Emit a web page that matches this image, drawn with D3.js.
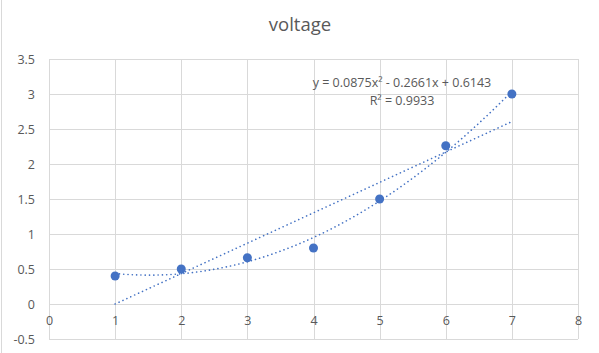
<!DOCTYPE html>
<html>
<head>
<meta charset="utf-8">
<script src="https://cdn.jsdelivr.net/npm/d3@7"></script>
<style>
  body { margin: 0; background: #fff; }
  svg { display: block; font-family: "Open Sans", "Liberation Sans", sans-serif; }
</style>
</head>
<body>
<div id="vis-display"></div>
<script>
// Scatter of voltage readings with a 2nd-order polynomial and a linear trendline (Excel-style).

const X_VALUES = [1, 2, 3, 4, 5, 6, 7];
const Y_VALUES = [0.4, 0.5, 0.66, 0.8, 1.5, 2.26, 3.0];
const POLY_COEFFS = [0.0875, -0.2661, 0.6143];   // a x² + b x + c, as printed on the chart
const X_TICKS = [0, 1, 2, 3, 4, 5, 6, 7, 8];
const Y_TICKS = [-0.5, 0, 0.5, 1, 1.5, 2, 2.5, 3, 3.5];
const TITLE = "voltage";
const EQ_LABEL = "y = 0.0875x² - 0.2661x + 0.6143";
const R2_LABEL = "R² = 0.9933";

const W = 599, H = 353;
const margin = { top: 59, right: 21, bottom: 14, left: 49 };
const innerW = W - margin.left - margin.right;
const innerH = H - margin.top - margin.bottom;

const BLUE = "#4472c4";
const GRID = "#d9d9d9";
const TEXT = "#595959";

const data = X_VALUES.map((x, i) => ({ x, y: Y_VALUES[i] }));

// ── Scales ────────────────────────────────────────────────────────────────

const xScale = d3.scaleLinear().domain([0, 8]).range([0, innerW]);
const yScale = d3.scaleLinear().domain([-0.5, 3.5]).range([innerH, 0]);

// ── SVG ───────────────────────────────────────────────────────────────────

const svg = d3.select("#vis-display").append("svg")
  .attr("width", W)
  .attr("height", H);

// faint outer border on the left edge
svg.append("line")
  .attr("x1", 1.5).attr("x2", 1.5).attr("y1", 0).attr("y2", H)
  .attr("stroke", "#d9d9d9");

svg.append("text")
  .attr("x", 300)
  .attr("y", 31)
  .attr("text-anchor", "middle")
  .style("font-size", "18.5px")
  .style("fill", TEXT)
  .text(TITLE);

const g = svg.append("g")
  .attr("transform", `translate(${margin.left},${margin.top})`);

// ── Grid ──────────────────────────────────────────────────────────────────

g.append("g")
  .selectAll("line")
  .data(Y_TICKS)
  .join("line")
    .attr("x1", 0).attr("x2", innerW)
    .attr("y1", d => Math.round(yScale(d)) + 0.5)
    .attr("y2", d => Math.round(yScale(d)) + 0.5)
    .attr("stroke", GRID);

g.append("g")
  .selectAll("line")
  .data(X_TICKS)
  .join("line")
    .attr("x1", d => Math.round(xScale(d)) + 0.5)
    .attr("x2", d => Math.round(xScale(d)) + 0.5)
    .attr("y1", 0).attr("y2", innerH)
    .attr("stroke", GRID);

// ── Axes labels ───────────────────────────────────────────────────────────

g.append("g")
  .call(d3.axisLeft(yScale).tickValues(Y_TICKS).tickSize(0).tickPadding(14)
    .tickFormat(d => d3.format("")(d).replace("−", "-")))
  .call(ax => ax.select(".domain").remove())
  .selectAll("text")
    .style("font-family", "\"Open Sans\", sans-serif")
    .style("font-size", "12.5px")
    .style("fill", TEXT);

g.append("g")
  .attr("transform", `translate(0,${yScale(0)})`)
  .call(d3.axisBottom(xScale).tickValues(X_TICKS).tickSize(0).tickPadding(12))
  .call(ax => ax.select(".domain").remove())
  .selectAll("text")
    .style("font-family", "\"Open Sans\", sans-serif")
    .style("font-size", "12.5px")
    .style("fill", TEXT);

// ── Trendlines ────────────────────────────────────────────────────────────

const [xMin, xMax] = d3.extent(X_VALUES);
const polyY = x => POLY_COEFFS[0] * x * x + POLY_COEFFS[1] * x + POLY_COEFFS[2];
const polyPts = d3.range(0, 61).map(i => {
  const x = xMin + (xMax - xMin) * i / 60;
  return [x, polyY(x)];
});

// least-squares linear fit of the data
const mx = d3.mean(X_VALUES), my = d3.mean(Y_VALUES);
const slope = d3.sum(data, d => (d.x - mx) * (d.y - my)) / d3.sum(data, d => (d.x - mx) ** 2);
const intercept = my - slope * mx;
const linPts = [xMin, xMax].map(x => [x, slope * x + intercept]);

const line = d3.line().x(d => xScale(d[0])).y(d => yScale(d[1]));

[polyPts, linPts].forEach(pts => {
  g.append("path")
    .attr("d", line(pts))
    .attr("fill", "none")
    .attr("stroke", BLUE)
    .attr("stroke-width", 1.6)
    .attr("stroke-linecap", "round")
    .attr("stroke-dasharray", "0.1,4.2");
});

// ── Points ────────────────────────────────────────────────────────────────

g.append("g")
  .selectAll("circle")
  .data(data)
  .join("circle")
    .attr("cx", d => xScale(d.x))
    .attr("cy", d => yScale(d.y))
    .attr("r", 4.5)
    .attr("fill", BLUE);

// ── Trendline equation ────────────────────────────────────────────────────

const eq = svg.append("g").style("font-size", "12.5px").style("fill", TEXT)
  .attr("text-anchor", "middle");
eq.append("text").attr("x", 402).attr("y", 87).text(EQ_LABEL);
eq.append("text").attr("x", 402).attr("y", 105).text(R2_LABEL);
</script>
</body>
</html>
